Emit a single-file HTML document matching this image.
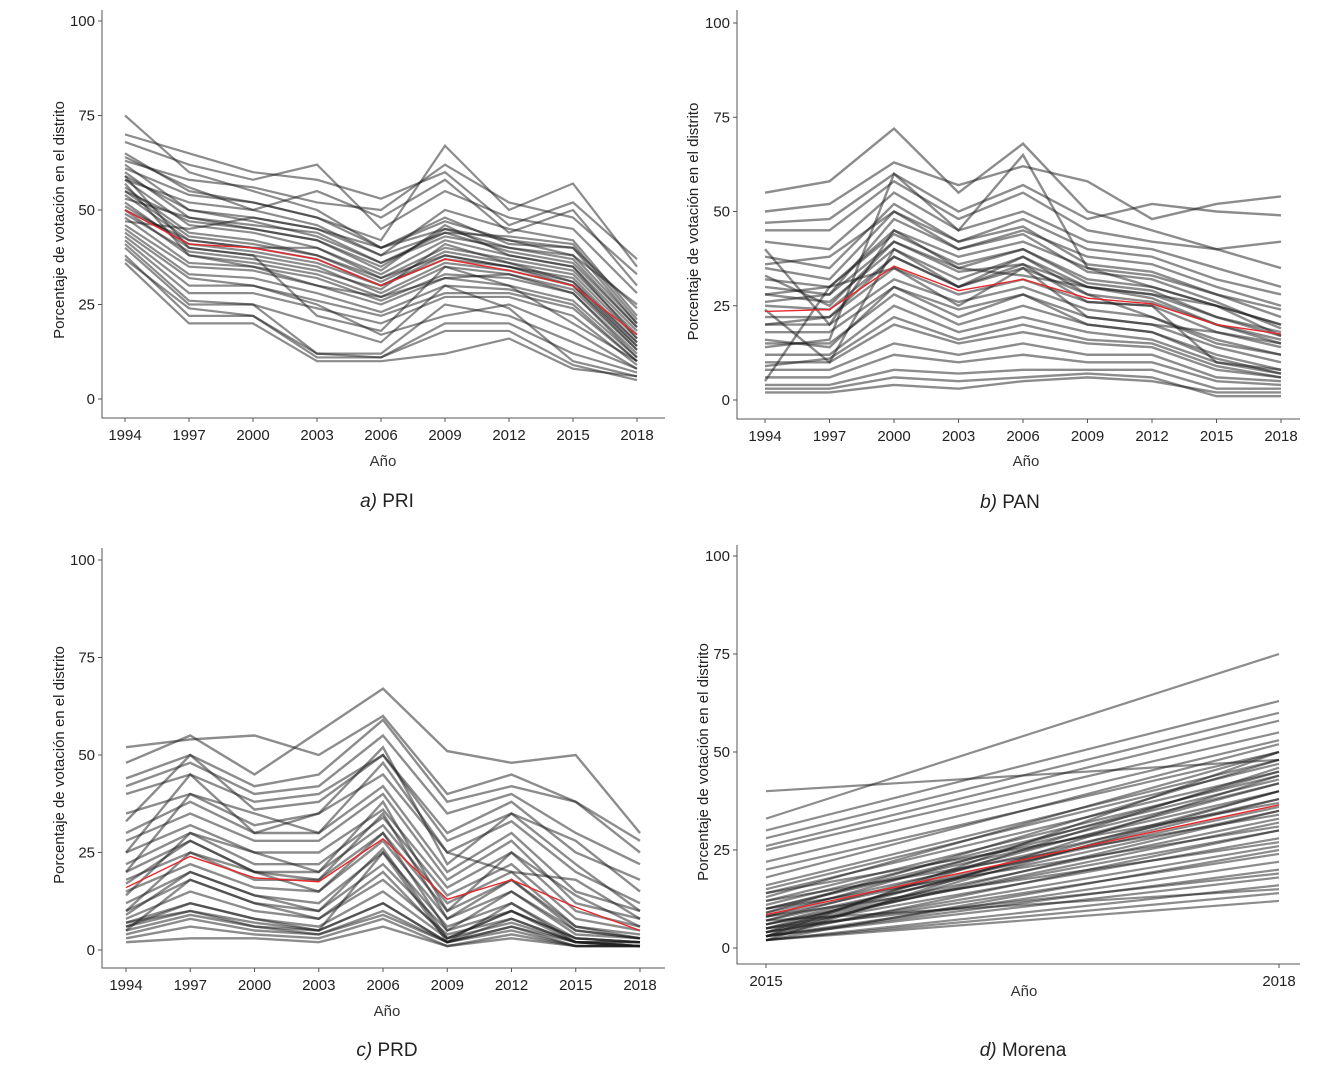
<!DOCTYPE html>
<html><head><meta charset="utf-8"><style>
body{margin:0;background:#fff;}
svg{display:block;font-family:"Liberation Sans","DejaVu Sans",sans-serif;}
</style></head><body>
<svg id="c" width="1333" height="1079"></svg>
<script>
const yearsA=[1994,1997,2000,2003,2006,2009,2012,2015,2018];
const yearsD=[2015,2018];
const yTicks=[0,25,50,75,100];
const meanPRI=[50,41,40,37,30,37,34,30,17];
const meanPAN=[23.5,24,35.5,29,32,27,25.5,20,17.5];
const meanPRD=[16,24,18.5,17.5,28.5,13,18,11,5];
const meanMorena=[8.5,36.5];
const linesPRI=[
[75,60,55,50,40,45,42,38,25],[68,62,58,62,45,55,48,45,28],[65,55,52,48,42,67,50,57,35],
[62,50,48,45,38,50,45,42,22],[60,48,45,42,35,45,40,38,20],[58,46,44,40,33,42,38,35,18],
[56,44,42,38,32,40,37,34,17],[55,43,41,38,31,39,36,33,16],[54,42,40,37,30,38,35,32,15],
[52,40,38,35,28,36,34,30,14],[50,38,36,33,27,35,33,29,13],[48,36,35,32,26,33,32,28,12],
[46,35,34,30,25,32,30,26,11],[45,33,32,28,23,30,29,25,10],[43,30,30,26,22,28,28,24,10],
[42,28,28,24,20,27,27,22,9],[40,25,25,12,12,25,22,15,8],[38,22,22,11,11,20,20,12,7],
[36,20,20,10,10,12,16,8,6],[58,52,50,55,48,58,44,50,30],[63,58,56,52,50,62,52,48,33],
[70,65,60,58,53,60,46,52,37],[47,45,48,45,40,47,42,40,20],[53,48,46,44,36,44,39,36,19],
[59,40,38,22,18,35,30,20,10],[44,32,30,25,17,22,25,18,8],[50,42,40,40,32,38,35,30,13],
[61,54,52,48,40,48,41,40,24],[57,38,35,30,27,32,33,28,11],[41,26,25,20,15,30,24,10,6],
[64,56,50,46,38,44,43,41,21],[49,39,37,34,29,41,36,31,15],[55,47,45,42,34,46,38,35,16],
[37,24,22,12,11,18,18,9,5],[51,41,39,36,30,37,35,31,14],[59,50,47,43,36,43,40,37,19]];
const linesPAN=[
[55,58,72,55,68,50,45,40,35],[50,52,63,57,62,58,48,52,54],[47,48,60,50,57,48,52,50,49],
[45,45,58,48,55,45,42,40,42],[42,40,55,45,50,42,40,35,30],[38,35,52,42,48,40,38,32,28],
[35,32,50,40,45,38,36,30,25],[32,30,45,38,42,35,33,28,22],[30,28,42,35,40,32,30,25,20],
[28,26,40,32,38,30,28,22,18],[25,24,38,30,35,28,26,20,16],[22,22,35,28,32,26,25,18,14],
[20,20,32,26,30,24,22,16,12],[18,18,30,24,28,22,20,14,10],[15,15,28,20,25,20,18,12,8],
[12,12,25,18,22,18,16,10,7],[10,10,20,15,18,15,14,8,6],[8,8,15,12,15,12,12,6,5],
[6,6,12,10,12,10,10,5,4],[4,4,8,7,8,8,8,3,3],[2,2,4,3,5,6,5,2,2],[3,3,6,5,6,7,6,1,1],
[24,10,40,30,38,28,22,15,12],[40,20,45,35,33,30,28,25,20],[5,30,35,25,35,22,20,18,15],
[14,16,60,45,65,35,30,25,17],[26,28,48,40,44,34,32,26,19],[33,25,42,34,36,26,25,10,8],
[20,22,38,30,36,30,27,20,15],[9,11,22,16,20,16,15,9,6],[36,38,50,42,46,36,34,28,24],
[16,14,30,22,28,20,18,11,7],[28,30,44,36,40,31,29,22,17]];
const linesPRD=[
[52,54,55,50,60,40,45,38,28],[48,55,45,56,67,51,48,50,30],[44,50,42,45,59,38,42,38,25],
[42,48,40,42,55,35,40,30,22],[40,45,38,40,50,30,38,25,18],[35,40,32,35,45,25,33,20,12],
[30,38,30,30,42,20,30,15,10],[28,35,28,28,40,18,28,12,8],[25,32,25,25,36,16,25,10,6],
[22,30,22,22,34,14,22,8,5],[20,28,20,20,32,12,20,6,4],[18,25,18,18,30,10,18,5,3],
[15,22,16,15,28,8,15,4,3],[12,20,14,12,25,6,12,3,2],[10,18,12,10,22,5,10,3,2],
[8,15,10,8,18,4,8,2,2],[7,12,8,6,15,3,7,2,1],[6,10,7,5,12,2,6,2,1],[5,9,6,4,10,2,5,1,1],
[3,6,4,3,8,1,4,1,1],[2,3,3,2,6,1,3,1,1],[6,12,8,5,12,2,8,2,2],[7,10,6,5,25,2,12,2,1],
[20,40,35,30,48,25,20,18,8],[14,30,25,20,38,10,25,14,6],[10,25,20,15,30,5,15,5,3],
[5,18,12,8,20,3,10,3,2],[25,45,30,35,52,22,35,28,15],[17,28,20,18,35,8,18,6,3],
[9,20,14,10,26,3,10,2,1],[4,8,5,4,9,2,6,1,1],[33,50,36,38,50,28,35,22,10]];
const linesMorena=[
[40,48],[33,75],[30,63],[28,60],[26,58],[25,55],[22,53],[20,50],[18,52],[16,48],
[15,47],[14,45],[13,50],[12,44],[11,43],[10,42],[10,40],[9,48],[9,38],[8,45],
[8,36],[7,35],[7,42],[6,33],[6,30],[5,40],[5,28],[5,32],[4,26],[4,35],[4,24],
[3,22],[3,30],[3,20],[3,18],[2,16],[2,25],[2,14],[2,12],[6,38],[8,27],[12,34],
[4,46],[3,50],[5,19],[7,15],[10,31],[14,37],[2,44],[3,40]];

const NS="http://www.w3.org/2000/svg";
const svg=document.getElementById('c');
function mk(tag,attrs,parent){const e=document.createElementNS(NS,tag);for(const k in attrs)e.setAttribute(k,attrs[k]);(parent||svg).appendChild(e);return e;}
function txt(s,attrs,parent){const e=mk('text',attrs,parent);e.textContent=s;return e;}

function panel(id,cfg,years,lines,mean,letter,party){
  const g=mk('g',{});
  
  
  const xs=v=>cfg.x0+(v-years[0])/(years[years.length-1]-years[0])*(cfg.x1-cfg.x0);
  const ys=v=>cfg.y0-v/100*(cfg.y0-cfg.y100);
  const lg=mk('g',{},g);
  
  
  lines.forEach(l=>{
    const p=mk('polyline',{points:l.map((v,i)=>xs(years[i])+','+ys(v)).join(' '),fill:'none',stroke:'#1a1a1a','stroke-opacity':0.5,'stroke-width':cfg.sw},lg);
    
    
  });
  const m=mk('polyline',{points:mean.map((v,i)=>xs(years[i])+','+ys(v)).join(' '),fill:'none',stroke:'#e8282b','stroke-width':1.4},g);
  
  
  const ax=mk('path',{d:`M${cfg.ax},${cfg.top}V${cfg.ay}H${cfg.right}`,fill:'none',stroke:'#555','stroke-width':1},g);
  
  
  yTicks.forEach(t=>{
    mk('line',{x1:cfg.ax-4,x2:cfg.ax,y1:ys(t),y2:ys(t),stroke:'#555'},g);
    const l=txt(String(t),{x:cfg.ax-7,y:ys(t)+5,'text-anchor':'end','font-size':15,fill:'#222'},g);
    
    
  });
  years.forEach(yv=>{
    mk('line',{x1:xs(yv),x2:xs(yv),y1:cfg.ay,y2:cfg.ay+4,stroke:'#555'},g);
    const l=txt(String(yv),{x:xs(yv),y:cfg.ay+22,'text-anchor':'middle','font-size':15,fill:'#222'},g);
    
    
  });
  const xt=txt('Año',{x:cfg.axx,y:cfg.axy,'text-anchor':'middle','font-size':15,fill:'#333'},g);
  
  
  const yc=(cfg.y0+cfg.y100)/2+10;
  const yt=txt('Porcentaje de votación en el distrito',{x:cfg.ytx,y:yc,'text-anchor':'middle','font-size':15,fill:'#222',transform:`rotate(-90 ${cfg.ytx} ${yc})`},g);
  
  
  const cap=mk('text',{x:cfg.capx,y:cfg.capy,'text-anchor':'middle','font-size':19,fill:'#222'},g);
  
  
  const i1=mk('tspan',{'font-style':'italic'},cap);i1.textContent=letter+') ';
  const i2=mk('tspan',{},cap);i2.textContent=party;
}
panel('panel-pri',{x0:125,x1:637,y0:399,y100:21,ax:102,ay:418,top:10,right:665,axx:383,axy:466,ytx:64,capx:387,capy:507,sw:2.2},yearsA,linesPRI,meanPRI,'a','PRI');
panel('panel-pan',{x0:765,x1:1281,y0:400,y100:23,ax:737,ay:419,top:10,right:1300,axx:1026,axy:466,ytx:698,capx:1010,capy:508,sw:2.4},yearsA,linesPAN,meanPAN,'b','PAN');
panel('panel-prd',{x0:126,x1:640,y0:950,y100:560,ax:102,ay:968,top:548,right:665,axx:387,axy:1016,ytx:64,capx:387,capy:1056,sw:2.4},yearsA,linesPRD,meanPRD,'c','PRD');
panel('panel-morena',{x0:766,x1:1279,y0:948,y100:556,ax:737,ay:964,top:545,right:1300,axx:1024,axy:996,ytx:708,capx:1023,capy:1056,sw:2.2},yearsD,linesMorena,meanMorena,'d','Morena');
</script>
</body></html>
